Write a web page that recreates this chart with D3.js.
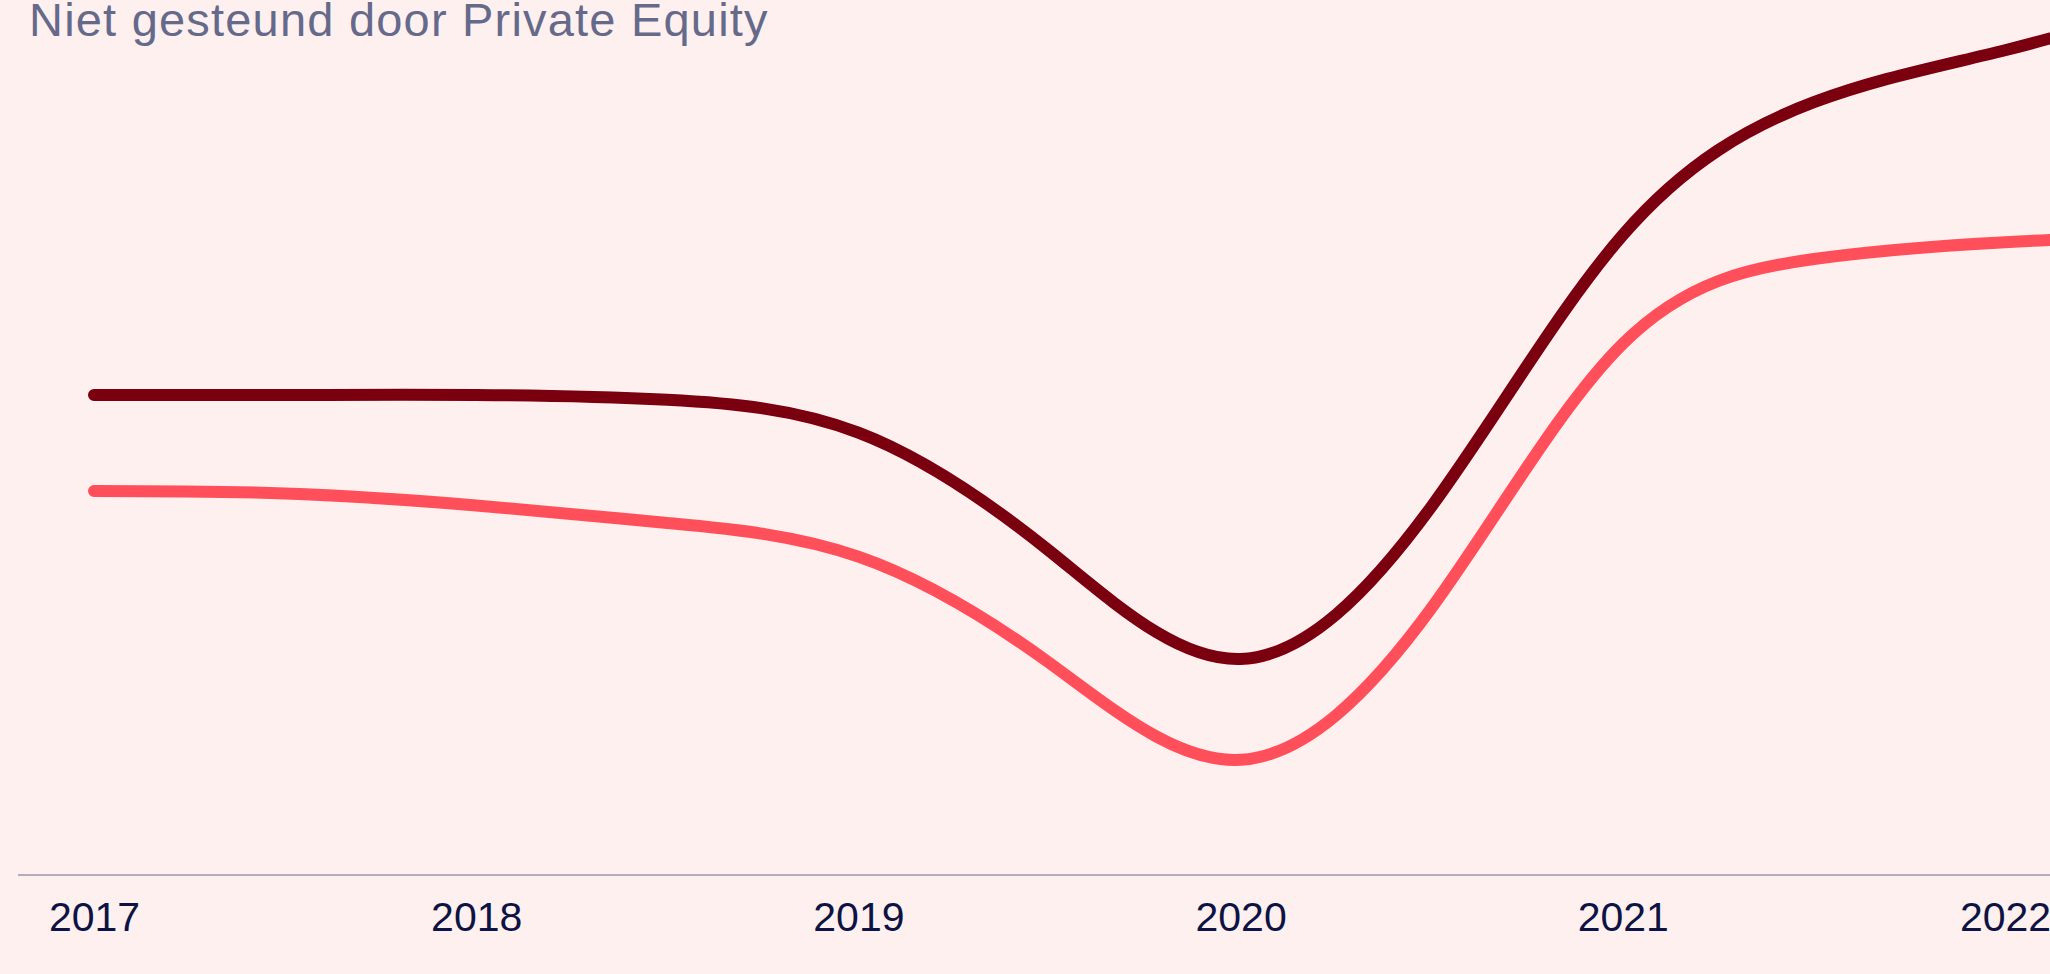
<!DOCTYPE html>
<html>
<head>
<meta charset="utf-8">
<script src="https://cdn.jsdelivr.net/npm/d3@7"></script>
<style>
  html, body { margin: 0; padding: 0; background: #fff0f0; overflow: hidden; }
  svg { display: block; }
</style>
</head>
<body>
<svg id="ctner"></svg>
<script>
// data (half-year steps, index values)
const dates = [2017, 2017.5, 2018, 2018.5, 2019, 2019.5, 2020, 2020.5, 2021, 2021.5, 2022, 2022.5];
const darkValues = [60, 60, 60, 59.4, 55.3, 40.5, 27, 46.1, 80, 96.6, 103.1, 109.9];
const pinkValues = [48, 47.7, 46.2, 44, 39.8, 26.5, 14.4, 33.4, 66.4, 77, 79.1, 80.1];
const years = [2017, 2018, 2019, 2020, 2021, 2022];
const title = "Niet gesteund door Private Equity";

main();

function main() {
  const width = 2050;
  const height = 974;
  const svg = d3.select("#ctner").attr("width", width).attr("height", height);

  const series = [
    { key: "dark", color: "#7a000f", values: dates.map((d, i) => ({ date: d, value: darkValues[i] })) },
    { key: "pink", color: "#ff4f5a", values: dates.map((d, i) => ({ date: d, value: pinkValues[i] })) },
  ];

  /* scales */
  const x = d3.scaleLinear().domain([2017, 2022]).range([94, 2005]);
  const y = d3.scaleLinear().domain([0, 100]).range([875, 75]);

  /* title */
  svg.append("text")
    .attr("x", 29)
    .attr("y", 36)
    .style("font", "47px 'Liberation Sans', Arial, sans-serif")
    .style("letter-spacing", "1.2px")
    .attr("fill", "#666a8a")
    .text(title);

  /* baseline */
  svg.append("line")
    .attr("x1", 18)
    .attr("x2", width)
    .attr("y1", y(0))
    .attr("y2", y(0))
    .attr("stroke", "#b3adbd")
    .attr("stroke-width", 2);

  /* x axis labels */
  svg.append("g")
    .attr("transform", "translate(0, 931)")
    .call(d3.axisBottom(x).tickValues(years).tickFormat(d3.format("d")).tickSize(0))
    .call((g) => g.select(".domain").remove())
    .call((g) => g.selectAll("text")
      .attr("y", 0)
      .attr("dy", 0)
      .attr("fill", "#0d1342")
      .style("font", "41px 'Liberation Sans', Arial, sans-serif"));

  /* lines */
  const line = d3.line()
    .curve(d3.curveNatural)
    .x((d) => x(d.date))
    .y((d) => y(d.value));

  svg.append("g")
    .selectAll("path")
    .data(series)
    .join("path")
    .attr("fill", "none")
    .attr("stroke", (d) => d.color)
    .attr("stroke-width", 12)
    .attr("stroke-linejoin", "round")
    .attr("stroke-linecap", "round")
    .attr("d", (d) => line(d.values));
}
</script>
</body>
</html>
